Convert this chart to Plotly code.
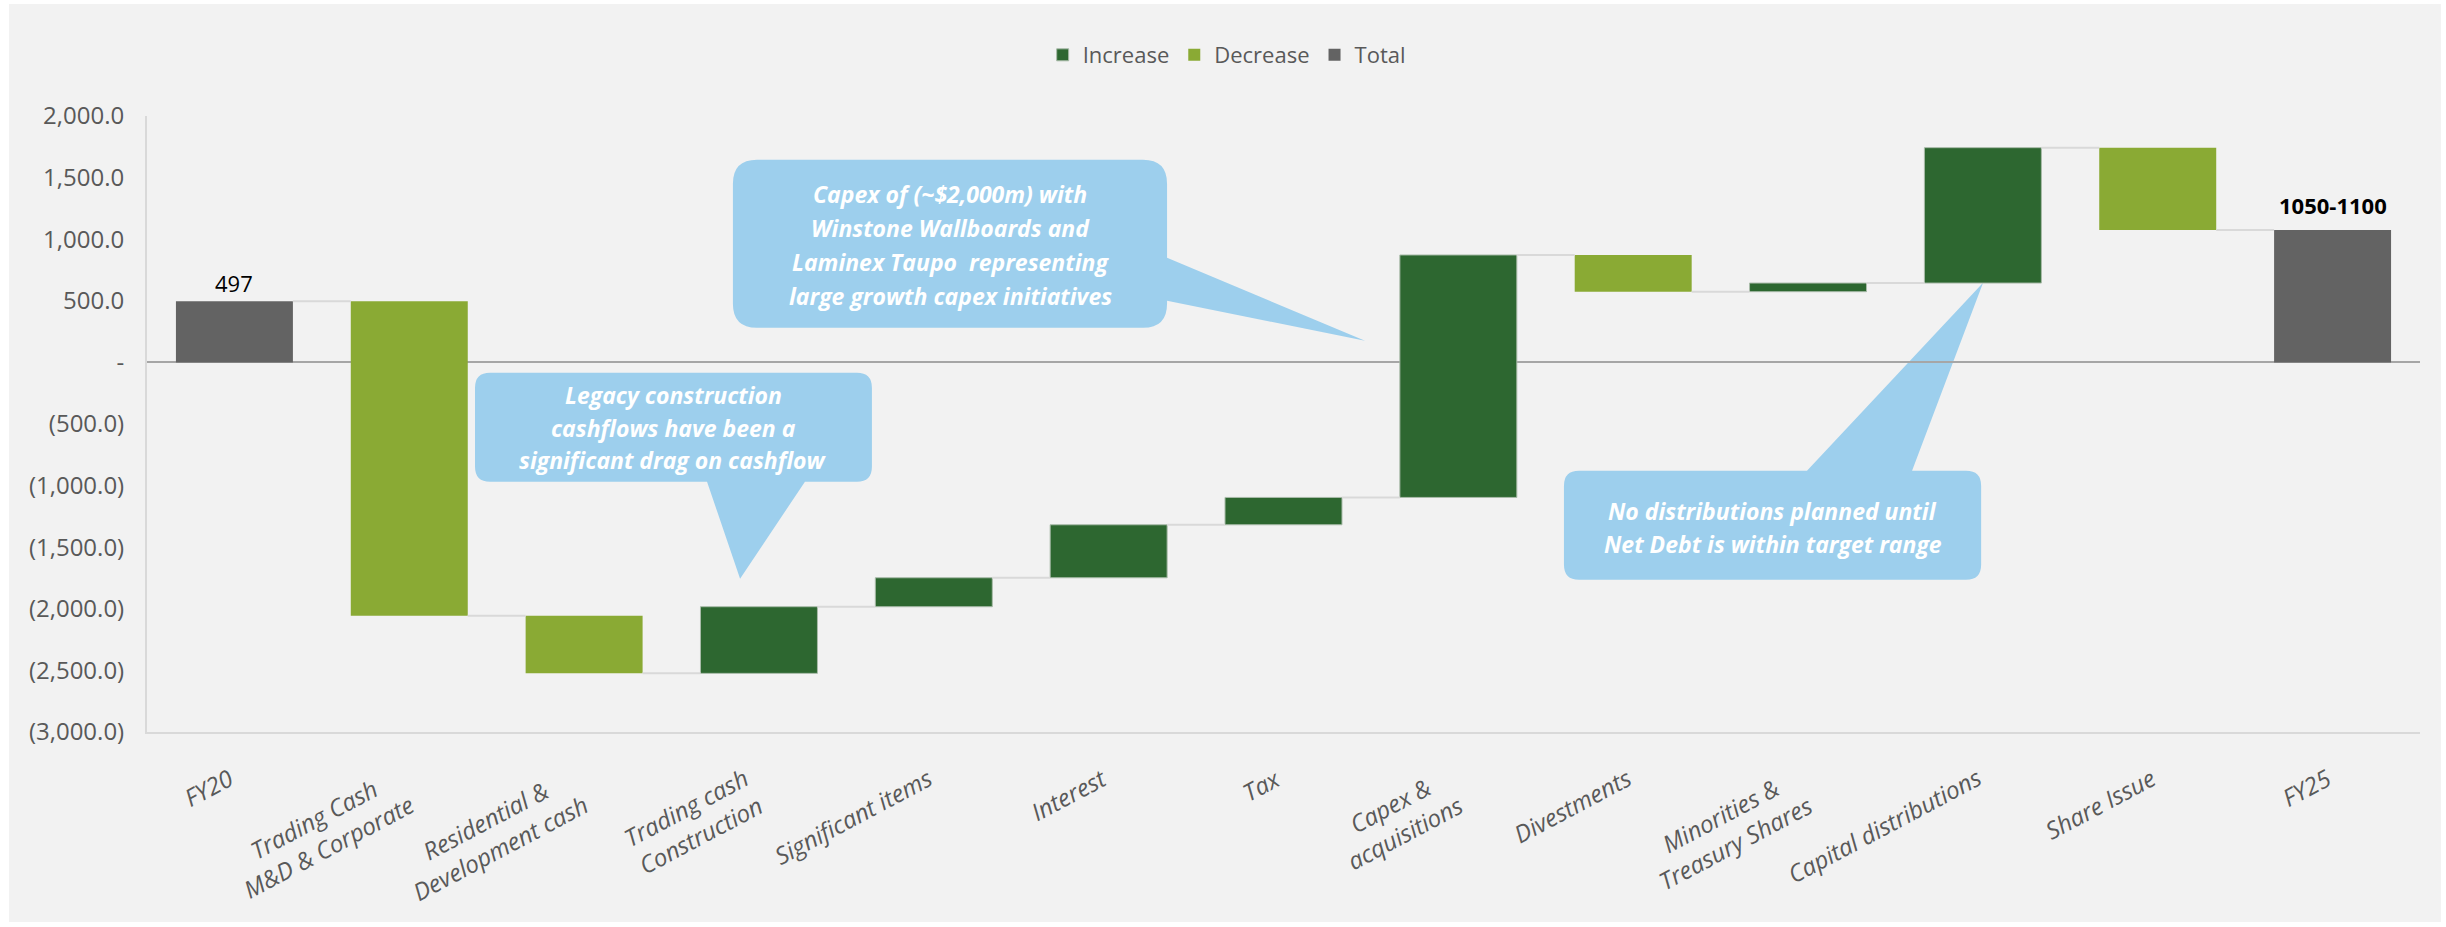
import plotly.graph_objects as go

# ---- data -------------------------------------------------------------
categories = [
    "FY20",
    "Trading Cash<br>M&D & Corporate",
    "Residential &<br>Development cash",
    "Trading cash<br>Construction",
    "Significant items",
    "Interest",
    "Tax",
    "Capex &<br>acquisitions",
    "Divestments",
    "Minorities &<br>Treasury Shares",
    "Capital distributions",
    "Share Issue",
    "FY25",
]
step_values = [497, -2553, -468, 541, 235, 430, 222, 1968, -298, 70, 1099, -668, 1075]
measures = ["total"] + ["relative"] * 11 + ["total"]
value_labels = ["497", "", "", "", "", "", "", "", "", "", "", "", "1050-1100"]

y_tickvals = [2000, 1500, 1000, 500, 0, -500, -1000, -1500, -2000, -2500, -3000]
y_ticktext = ["2,000.0", "1,500.0", "1,000.0", "500.0", "-", "(500.0)", "(1,000.0)",
              "(1,500.0)", "(2,000.0)", "(2,500.0)", "(3,000.0)"]

# ---- styling ----------------------------------------------------------
INC = "#2D6730"
DEC = "#8AAA34"
TOT = "#636363"
CALLOUT = "#9DCFED"
TEXT_GREY = "#595959"
BAR_W = 0.669
FONT = "Open Sans"

# running totals -> bar bases and ends
bases, ends = [], []
running = 0
for v, m in zip(step_values, measures):
    if m == "total":
        bases.append(0)
        running = v
    else:
        bases.append(running)
        running += v
    ends.append(running)


def pick(cond):
    xs, ys, bs = [], [], []
    for i, (v, m) in enumerate(zip(step_values, measures)):
        if cond(v, m):
            xs.append(i)
            ys.append(v)
            bs.append(bases[i])
    return xs, ys, bs


fig = go.Figure()

# connectors between consecutive bars
cx, cy = [], []
for i in range(len(categories) - 1):
    cx += [i + BAR_W / 2, i + 1 - BAR_W / 2, None]
    cy += [ends[i], ends[i], None]
fig.add_trace(go.Scatter(x=cx, y=cy, mode="lines", line=dict(color="#D9D9D9", width=2),
                         showlegend=False, hoverinfo="skip"))

for name, color, cond, lw in [
    ("Increase", INC, lambda v, m: m == "relative" and v > 0, 1),
    ("Decrease", DEC, lambda v, m: m == "relative" and v < 0, 0),
    ("Total", TOT, lambda v, m: m == "total", 0),
]:
    xs, ys, bs = pick(cond)
    fig.add_trace(go.Bar(x=xs, y=ys, base=bs, name=name, width=BAR_W,
                         marker=dict(color=color, line=dict(color="#A9BBA9", width=lw))))

annotations = []

# value labels above total bars
for i, lab in enumerate(value_labels):
    if lab:
        bold = i == len(categories) - 1
        annotations.append(dict(
            x=i, y=ends[i], xref="x", yref="y", text=lab, showarrow=False,
            yanchor="bottom", yshift=8 if bold else 1,
            font=dict(family=FONT, size=22, color="#000000", weight="bold" if bold else "normal"),
        ))

# rotated category labels
for i, cat in enumerate(categories):
    two_lines = "<br>" in cat
    annotations.append(dict(
        x=i, y=0, xref="x", yref="paper", text=cat, showarrow=False,
        textangle=-28, xanchor="right", yanchor="top", align="center",
        xshift=12 if two_lines else 6, yshift=-26,
        font=dict(family=FONT, size=24, color=TEXT_GREY, style="italic"),
    ))


def callout_path(x0, x1, y0, y1, rx, ry, side, b0, b1, tip):
    """Rounded rectangle with a triangular pointer on one side (data units)."""
    tx, ty = tip
    p = [f"M{x0 + rx},{y1}"]
    if side == "top":
        p += [f"L{b0},{y1}", f"L{tx},{ty}", f"L{b1},{y1}"]
    p += [f"L{x1 - rx},{y1}", f"Q{x1},{y1} {x1},{y1 - ry}"]
    if side == "right":
        p += [f"L{x1},{b1}", f"L{tx},{ty}", f"L{x1},{b0}"]
    p += [f"L{x1},{y0 + ry}", f"Q{x1},{y0} {x1 - rx},{y0}"]
    if side == "bottom":
        p += [f"L{b1},{y0}", f"L{tx},{ty}", f"L{b0},{y0}"]
    p += [f"L{x0 + rx},{y0}", f"Q{x0},{y0} {x0},{y0 + ry}",
          f"L{x0},{y1 - ry}", f"Q{x0},{y1} {x0 + rx},{y1}", "Z"]
    return " ".join(p)


callouts = [
    dict(box=(1.376, 3.646, -968, -84), r=(0.086, 122), side="bottom",
         base=(2.703, 3.263), tip=(2.892, -1756), center=(2.511, -530), step=264,
         lines=["Legacy construction", "cashflows have been a", "significant drag on cashflow"]),
    dict(box=(2.851, 5.334, 281, 1644), r=(0.137, 195), side="right",
         base=(500, 849), tip=(6.466, 176), center=(4.093, 955), step=276,
         lines=["Capex of (~$2,000m) with", "Winstone Wallboards and",
                "Laminex Taupo  representing", "large growth capex initiatives"]),
    dict(box=(7.604, 9.990, -1764, -879), r=(0.086, 122), side="top",
         base=(8.994, 9.595), tip=(10.001, 647), center=(8.797, -1338), step=268,
         lines=["No distributions planned until", "Net Debt is within target range"]),
]

# light grey panel behind everything
shapes = [dict(type="rect", xref="paper", yref="paper", x0=-0.0607, x1=1.0092,
               y0=-0.3084, y1=1.1818, fillcolor="#F2F2F2", line=dict(width=0), layer="below")]

for c in callouts:
    x0, x1, y0, y1 = c["box"]
    shapes.append(dict(type="path", xref="x", yref="y", layer="below",
                       path=callout_path(x0, x1, y0, y1, c["r"][0], c["r"][1], c["side"],
                                         c["base"][0], c["base"][1], c["tip"]),
                       fillcolor=CALLOUT, line=dict(width=0)))
    n = len(c["lines"])
    for k, line in enumerate(c["lines"]):
        annotations.append(dict(
            x=c["center"][0], y=c["center"][1] + ((n - 1) / 2 - k) * c["step"],
            xref="x", yref="y", text=line, showarrow=False,
            xanchor="center", yanchor="middle",
            font=dict(family=FONT, size=23, color="#FFFFFF", weight="bold", style="italic"),
        ))

fig.update_layout(
    width=2446, height=927, autosize=False,
    margin=dict(l=147, r=26, t=116, b=195),
    paper_bgcolor="#FFFFFF", plot_bgcolor="rgba(0,0,0,0)",
    barmode="overlay",
    showlegend=True,
    legend=dict(orientation="h", x=0.475, xanchor="center", y=1.099, yanchor="middle",
                font=dict(family=FONT, size=22, color=TEXT_GREY), bgcolor="rgba(0,0,0,0)"),
    xaxis=dict(range=[-0.5, len(categories) - 0.5], showticklabels=False, ticks="",
               showgrid=False, zeroline=False, showline=True, linecolor="#D9D9D9", linewidth=2),
    yaxis=dict(range=[-3000, 2000], tickvals=y_tickvals, ticktext=y_ticktext, ticks="",
               showgrid=False, showline=True, linecolor="#D9D9D9", linewidth=2,
               zeroline=True, zerolinecolor="#A6A6A6", zerolinewidth=1.5,
               tickfont=dict(family=FONT, size=24, color=TEXT_GREY), ticklabelstandoff=16),
    shapes=shapes,
    annotations=annotations,
)

fig.write_html("out.html")
